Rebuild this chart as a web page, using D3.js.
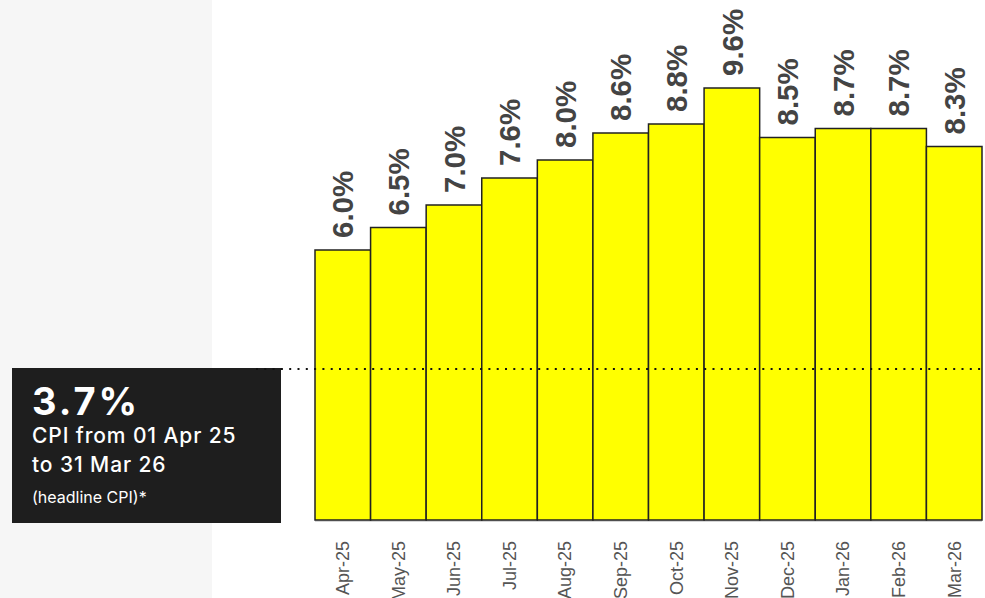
<!DOCTYPE html>
<html>
<head>
<meta charset="utf-8">
<script src="https://cdn.jsdelivr.net/npm/d3@7/dist/d3.min.js"></script>
<style>
  html, body { margin: 0; padding: 0; background: #ffffff; }
  svg { display: block; }
</style>
</head>
<body>
<svg id="chart" width="985" height="598"></svg>
<script>
const months = ["Apr-25","May-25","Jun-25","Jul-25","Aug-25","Sep-25","Oct-25","Nov-25","Dec-25","Jan-26","Feb-26","Mar-26"];
const cpiValues = [6.0, 6.5, 7.0, 7.6, 8.0, 8.6, 8.8, 9.6, 8.5, 8.7, 8.7, 8.3];
const headlineValue = "3.7%";
const headlineLines = ["CPI from 01 Apr 25", "to 31 Mar 26"];
const headlineNote = "(headline CPI)*";

const svg = d3.select("#chart");
const W = 985, H = 598;

// left grey panel
svg.append("rect").attr("x", 0).attr("y", 0).attr("width", 212).attr("height", H).attr("fill", "#f6f6f6");

const x = d3.scaleBand().domain(months).range([315, 982]).padding(0);
const y = d3.scaleLinear().domain([0, 10]).range([520, 70]);

const data = months.map((m, i) => ({ m, v: cpiValues[i] }));

// baseline
svg.append("line").attr("x1", 315).attr("x2", 982).attr("y1", y(0) + 1).attr("y2", y(0) + 1)
  .attr("stroke", "#c8c8c8").attr("stroke-width", 1.5);

// bars
svg.append("g").selectAll("rect").data(data).join("rect")
  .attr("x", d => x(d.m))
  .attr("y", d => y(d.v))
  .attr("width", x.bandwidth())
  .attr("height", d => y(0) - y(d.v))
  .attr("fill", "#ffff00")
  .attr("stroke", "#222222")
  .attr("stroke-width", 1.5);

// value labels
svg.append("g").selectAll("text").data(data).join("text")
  .attr("transform", d => `translate(${x(d.m) + x.bandwidth() / 2},${y(d.v) - 12}) rotate(-90)`)
  .attr("dy", "0.36em")
  .attr("text-anchor", "start")
  .attr("font-family", "'Liberation Sans', Arial, sans-serif")
  .attr("font-weight", "bold")
  .attr("font-size", 29.5)
  .attr("fill", "#444444")
  .text(d => d.v.toFixed(1) + "%");

// x axis labels
const xAxis = d3.axisBottom(x).tickSize(0).tickPadding(0);
const gx = svg.append("g").attr("transform", `translate(0,541)`).call(xAxis);
gx.select(".domain").remove();
gx.selectAll("text")
  .attr("transform", "rotate(-90)")
  .attr("x", 0).attr("y", 0)
  .attr("dy", "0.35em")
  .attr("text-anchor", "end")
  .attr("font-family", "'Liberation Sans', Arial, sans-serif")
  .attr("font-size", 18)
  .attr("fill", "#555555");

// headline box
svg.append("rect").attr("x", 12).attr("y", 368).attr("width", 269).attr("height", 155).attr("fill", "#1e1e1e");

const box = svg.append("g").attr("font-family", "Inter, 'Liberation Sans', Arial, sans-serif").attr("fill", "#ffffff");
box.append("text").attr("x", 32).attr("y", 415).attr("font-size", 38).attr("font-weight", "bold")
  .attr("letter-spacing", 3).text(headlineValue);
box.selectAll("text.line").data(headlineLines).join("text").attr("class", "line")
  .attr("x", 32).attr("y", (d, i) => 443 + i * 29).attr("font-size", 21).attr("font-weight", 500)
  .attr("letter-spacing", 0.9).text(d => d);
box.append("text").attr("x", 32).attr("y", 503).attr("font-size", 16).text(headlineNote);

// dotted reference line
svg.append("line").attr("x1", 256).attr("x2", W).attr("y1", 369).attr("y2", 369)
  .attr("stroke", "#111111").attr("stroke-width", 2).attr("stroke-dasharray", "2,6.3");
</script>
</body>
</html>
